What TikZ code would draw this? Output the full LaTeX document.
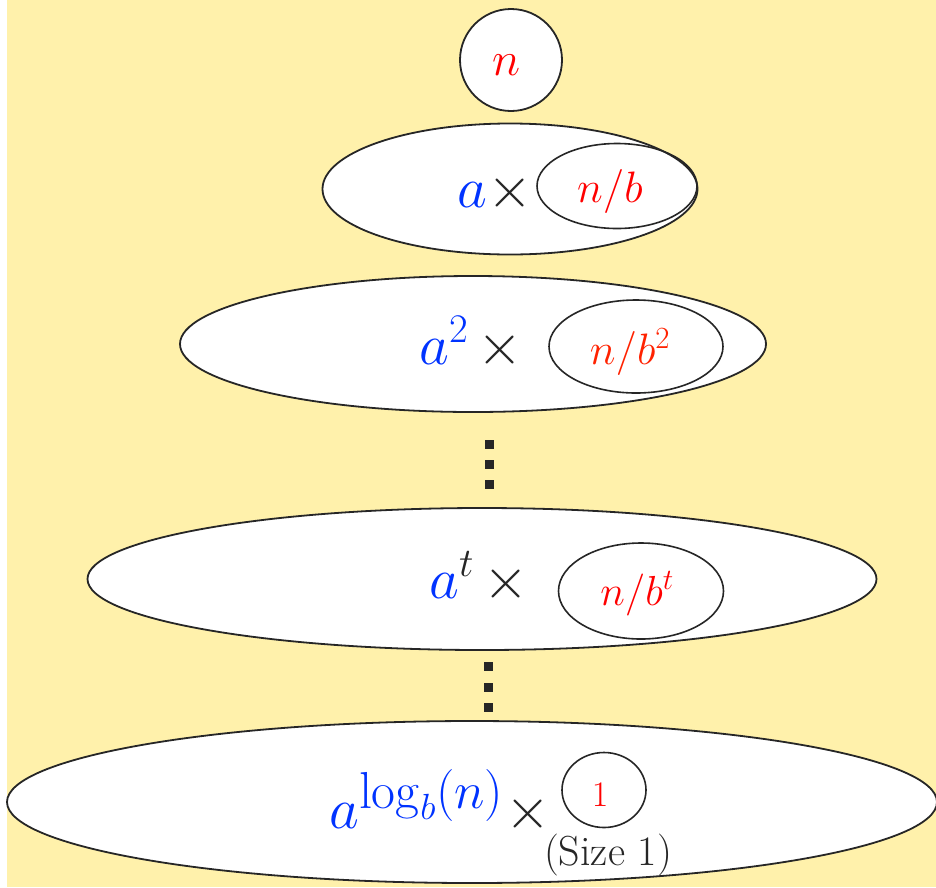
\RequirePackage{fix-cm}
\documentclass[tikz,border=0pt]{standalone}
\usetikzlibrary{shapes.geometric}
\definecolor{bg}{RGB}{255,241,171}
\definecolor{dk}{RGB}{38,38,38}
\definecolor{ablue}{RGB}{0,51,255}
\definecolor{nred}{RGB}{255,0,0}
\definecolor{ored}{RGB}{255,34,0}
\tikzset{
  bub/.style={ellipse, draw=dk, line width=1.8pt, fill=white, inner sep=0pt},
  subb/.style={ellipse, draw=dk, line width=1.6pt, inner sep=0pt},
  dotsq/.style={rectangle, fill=dk, minimum size=9pt, inner sep=0pt},
  bigtxt/.style={font=\fontsize{58}{58}\selectfont, text=dk, inner sep=0pt, anchor=base west},
  redtxt/.style={font=\fontsize{44}{44}\selectfont, text=nred, inner sep=0pt, anchor=base},
}
\begin{document}
\begin{tikzpicture}[x=1pt,y=-1pt]
\fill[white] (0,0) rectangle (936,887);
\fill[bg] (7,0) rectangle (936,887);
\useasboundingbox (0,0) rectangle (936,887);
% top circle
\node[bub, minimum width=102pt, minimum height=102pt] (c0) at (511,60) {};
\node[redtxt, font=\fontsize{48}{48}\selectfont] (t0) at (507,75) {$n$};
% level 1
\node[bub, minimum width=375pt, minimum height=131pt] (e1) at (510,189) {};
\node[subb, minimum width=160pt, minimum height=85pt] (s1) at (617,186) {};
\node[redtxt] (r1) at (610,202) {$n/b$};
\node[bigtxt] (a1) at (457,207) {{\color{ablue}$a$}$\times$};
% level 2
\node[bub, minimum width=586pt, minimum height=136pt] (e2) at (473,344) {};
\node[subb, minimum width=174pt, minimum height=93pt] (s2) at (636,346.5) {};
\node[redtxt, text=ored] (r2) at (630,364) {$n/b^2$};
\node[bigtxt] (a2) at (419,364) {{\color{ablue}$a^2$}\,$\times$};
% dots 1
\node[dotsq] (d11) at (489,444) {};
\node[dotsq] (d12) at (489,464) {};
\node[dotsq] (d13) at (489,484) {};
% level 3
\node[bub, minimum width=789pt, minimum height=142pt] (e3) at (482,579) {};
\node[subb, minimum width=165pt, minimum height=96pt] (s3) at (641,591) {};
\node[redtxt, font=\fontsize{42}{42}\selectfont] (r3) at (637,605) {$n/b^t$};
\node[bigtxt] (a3) at (429,598) {$\color{ablue}a\color{dk}^t$\,$\times$};
% dots 2
\node[dotsq] (d21) at (488,666) {};
\node[dotsq] (d22) at (488,687) {};
\node[dotsq] (d23) at (488,707) {};
% level 4
\node[bub, minimum width=930pt, minimum height=162pt] (e4) at (472,802) {};
\node[subb, minimum width=84pt, minimum height=75pt] (s4) at (604,790) {};
\node[redtxt, font=\fontsize{36}{36}\selectfont] (r4) at (600,806) {$1$};
\node[bigtxt] (a4) at (329,828) {{\color{ablue}$a$\raisebox{20pt}{\fontsize{52}{52}\selectfont$\log_b(n)$}}\hspace{2pt}$\times$};
\node[font=\fontsize{42}{42}\selectfont, text=dk, inner sep=0pt, anchor=base] (sz) at (608,865) {(Size 1)};
\end{tikzpicture}
\end{document}
